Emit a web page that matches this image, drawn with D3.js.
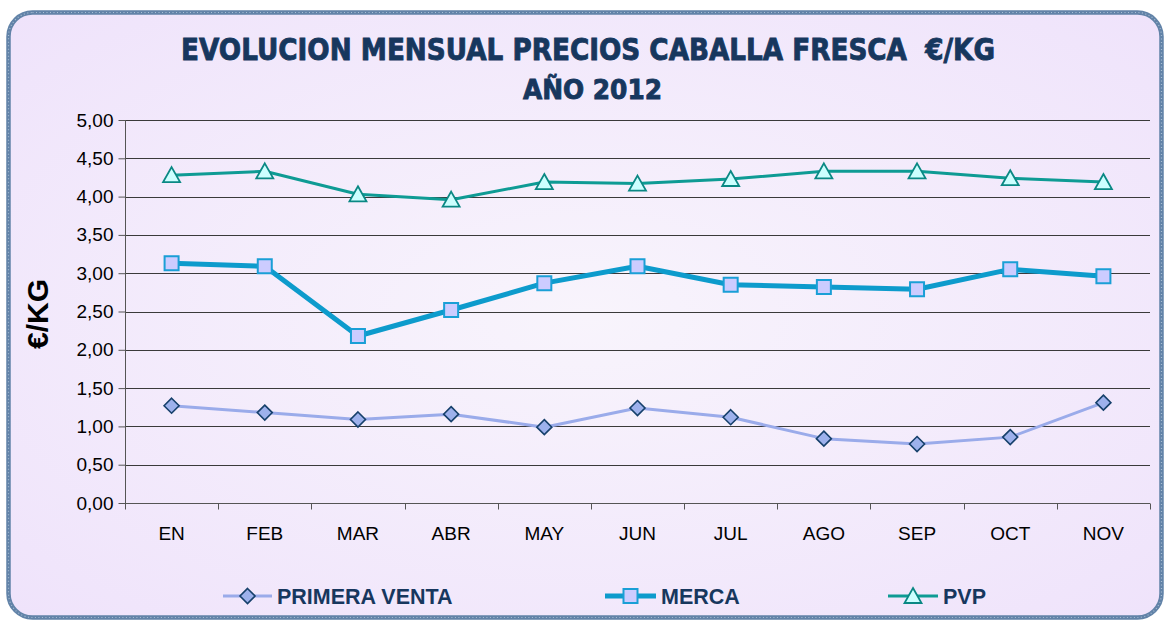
<!DOCTYPE html>
<html>
<head>
<meta charset="utf-8">
<script src="https://cdn.jsdelivr.net/npm/d3@7"></script>
<style>
  html, body { margin: 0; padding: 0; background: #ffffff; }
  svg { display: block; }
</style>
</head>
<body>
<svg id="chart" width="1166" height="621"></svg>
<script>
// ---- Data ----
const months = ["EN","FEB","MAR","ABR","MAY","JUN","JUL","AGO","SEP","OCT","NOV"];
const primeraVenta = [1.27, 1.18, 1.09, 1.16, 0.99, 1.24, 1.12, 0.84, 0.77, 0.86, 1.31];
const merca        = [3.13, 3.09, 2.18, 2.52, 2.87, 3.09, 2.85, 2.82, 2.79, 3.05, 2.96];
const pvp          = [4.28, 4.33, 4.03, 3.96, 4.19, 4.17, 4.23, 4.33, 4.33, 4.24, 4.19];
const yTicks = [0, 0.5, 1, 1.5, 2, 2.5, 3, 3.5, 4, 4.5, 5];
const seriesNames = ["PRIMERA VENTA", "MERCA", "PVP"];
const titleLines = ["EVOLUCION MENSUAL PRECIOS CABALLA FRESCA  €/KG", "AÑO 2012"];
const yAxisTitle = "€/KG";

const svg = d3.select("#chart");
const defs = svg.append("defs");

// background gradient
const rg = defs.append("radialGradient").attr("id", "bg").attr("cx", "50%").attr("cy", "50%").attr("r", "70%");
rg.append("stop").attr("offset", "0%").attr("stop-color", "#f8f4fc");
rg.append("stop").attr("offset", "100%").attr("stop-color", "#efe3fb");

// frame
svg.append("rect")
  .attr("x", 8.5).attr("y", 12.5).attr("width", 1153).attr("height", 605)
  .attr("rx", 24).attr("ry", 24)
  .attr("fill", "url(#bg)")
  .attr("stroke", "#6283a8").attr("stroke-width", 4.5);
svg.append("rect")
  .attr("x", 8.5).attr("y", 12.5).attr("width", 1153).attr("height", 605)
  .attr("rx", 24).attr("ry", 24)
  .attr("fill", "none")
  .attr("stroke", "#a9bfd4").attr("stroke-width", 1.2)
  .attr("stroke-dasharray", "1 2.5");

// title
const titleColor = "#17375e";
svg.append("text")
  .attr("x", 588).attr("y", 60)
  .attr("text-anchor", "middle")
  .style("white-space", "pre")
  .attr("font-family", "DejaVu Sans")
  .attr("font-weight", "bold")
  .attr("font-size", 30)
  .attr("fill", titleColor)
  .attr("stroke", titleColor).attr("stroke-width", 0.9)
  .attr("textLength", 814).attr("lengthAdjust", "spacingAndGlyphs")
  .text(titleLines[0]);
svg.append("text")
  .attr("x", 592.5).attr("y", 99)
  .attr("text-anchor", "middle")
  .attr("font-family", "DejaVu Sans")
  .attr("font-weight", "bold")
  .attr("font-size", 27)
  .attr("fill", titleColor)
  .attr("stroke", titleColor).attr("stroke-width", 0.9)
  .attr("textLength", 139).attr("lengthAdjust", "spacingAndGlyphs")
  .text(titleLines[1]);

// scales
const x = d3.scaleBand().domain(months).range([125, 1150]);
const y = d3.scaleLinear().domain([0, 5]).range([503, 120]);

// gridlines
svg.append("g")
  .selectAll("line")
  .data(yTicks.filter(d => d > 0))
  .join("line")
  .attr("x1", 125).attr("x2", 1150)
  .attr("y1", d => Math.round(y(d)) + 0.5).attr("y2", d => Math.round(y(d)) + 0.5)
  .attr("stroke", "#3a3a3a").attr("stroke-width", 1);

// y axis
const fmt = d => d.toFixed(2).replace(".", ",");
const yAxis = svg.append("g")
  .attr("transform", "translate(125.5,0)")
  .call(d3.axisLeft(y).tickValues(yTicks).tickFormat(fmt).tickSize(7).tickPadding(5));
yAxis.select(".domain").attr("stroke", "#555").attr("d", "M0," + y(5) + "V" + y(0));
yAxis.selectAll(".tick line").attr("stroke", "#555");
yAxis.selectAll(".tick text")
  .attr("font-family", "Liberation Sans, Arial, sans-serif")
  .attr("font-size", 19).attr("fill", "#000");

// x axis
const xAxis = svg.append("g")
  .attr("transform", "translate(0," + (Math.round(y(0)) + 0.5) + ")")
  .call(d3.axisBottom(x).tickSize(0).tickPadding(23));
xAxis.select(".domain").attr("stroke", "#555").attr("d", "M125,0H1150");
xAxis.selectAll(".tick text")
  .attr("font-family", "Liberation Sans, Arial, sans-serif")
  .attr("font-size", 19).attr("fill", "#000");
// boundary tick marks
const bounds = months.map(m => x(m)).concat([x.range()[1]]);
xAxis.append("g").selectAll("line").data(bounds).join("line")
  .attr("x1", d => Math.round(d) + 0.5).attr("x2", d => Math.round(d) + 0.5)
  .attr("y1", 0).attr("y2", 6)
  .attr("stroke", "#555");

// y axis title
svg.append("text")
  .attr("transform", "translate(48,314) rotate(-90)")
  .attr("text-anchor", "middle")
  .attr("font-family", "Liberation Sans, Arial, sans-serif")
  .attr("font-weight", "bold")
  .attr("font-size", 30)
  .attr("fill", "#000")
  .text(yAxisTitle);

// series config
const cx = m => x(m) + x.bandwidth() / 2;
const line = d3.line().x((d, i) => cx(months[i])).y(d => y(d));

const styles = [
  { data: primeraVenta, color: "#9aabea", width: 3, shape: "diamond", fill: "#9db1ec", stroke: "#16406b", sw: 1.6 },
  { data: merca, color: "#0d9bcc", width: 5, shape: "square", fill: "#ccccff", stroke: "#1a9fd6", sw: 2 },
  { data: pvp, color: "#0e9b94", width: 3, shape: "triangle", fill: "#ccffff", stroke: "#0a8884", sw: 1.8 }
];

function markerPath(shape) {
  if (shape === "diamond") return "M0,-7.5L7.5,0L0,7.5L-7.5,0Z";
  if (shape === "square") return "M-7,-7H7V7H-7Z";
  return "M0,-9L8.5,6H-8.5Z";
}

styles.forEach(s => {
  svg.append("path")
    .datum(s.data)
    .attr("d", line)
    .attr("fill", "none")
    .attr("stroke", s.color)
    .attr("stroke-width", s.width)
    .attr("stroke-linejoin", "round");
  svg.append("g").selectAll("path")
    .data(s.data)
    .join("path")
    .attr("transform", (d, i) => "translate(" + cx(months[i]) + "," + (y(d) + (s.shape === "triangle" ? 1 : 0)) + ")")
    .attr("d", markerPath(s.shape))
    .attr("fill", s.fill)
    .attr("stroke", s.stroke)
    .attr("stroke-width", s.sw)
    .attr("stroke-linejoin", "miter");
});

// legend
const legendItems = [
  { x1: 223, x2: 272, tx: 277 },
  { x1: 605, x2: 656, tx: 661 },
  { x1: 888, x2: 938, tx: 943 }
];
const ly = 596;
const lg = svg.append("g");
legendItems.forEach((li, i) => {
  const s = styles[i];
  lg.append("line")
    .attr("x1", li.x1).attr("x2", li.x2).attr("y1", ly).attr("y2", ly)
    .attr("stroke", s.color).attr("stroke-width", s.width);
  lg.append("path")
    .attr("transform", "translate(" + ((li.x1 + li.x2) / 2) + "," + (ly + (s.shape === "triangle" ? 1 : 0)) + ")")
    .attr("d", markerPath(s.shape))
    .attr("fill", s.fill).attr("stroke", s.stroke).attr("stroke-width", s.sw);
  lg.append("text")
    .attr("x", li.tx).attr("y", ly + 7.5)
    .attr("font-family", "Liberation Sans, Arial, sans-serif")
    .attr("font-weight", "bold")
    .attr("font-size", 21.5)
    .attr("fill", titleColor)
    .text(seriesNames[i]);
});
</script>
</body>
</html>
